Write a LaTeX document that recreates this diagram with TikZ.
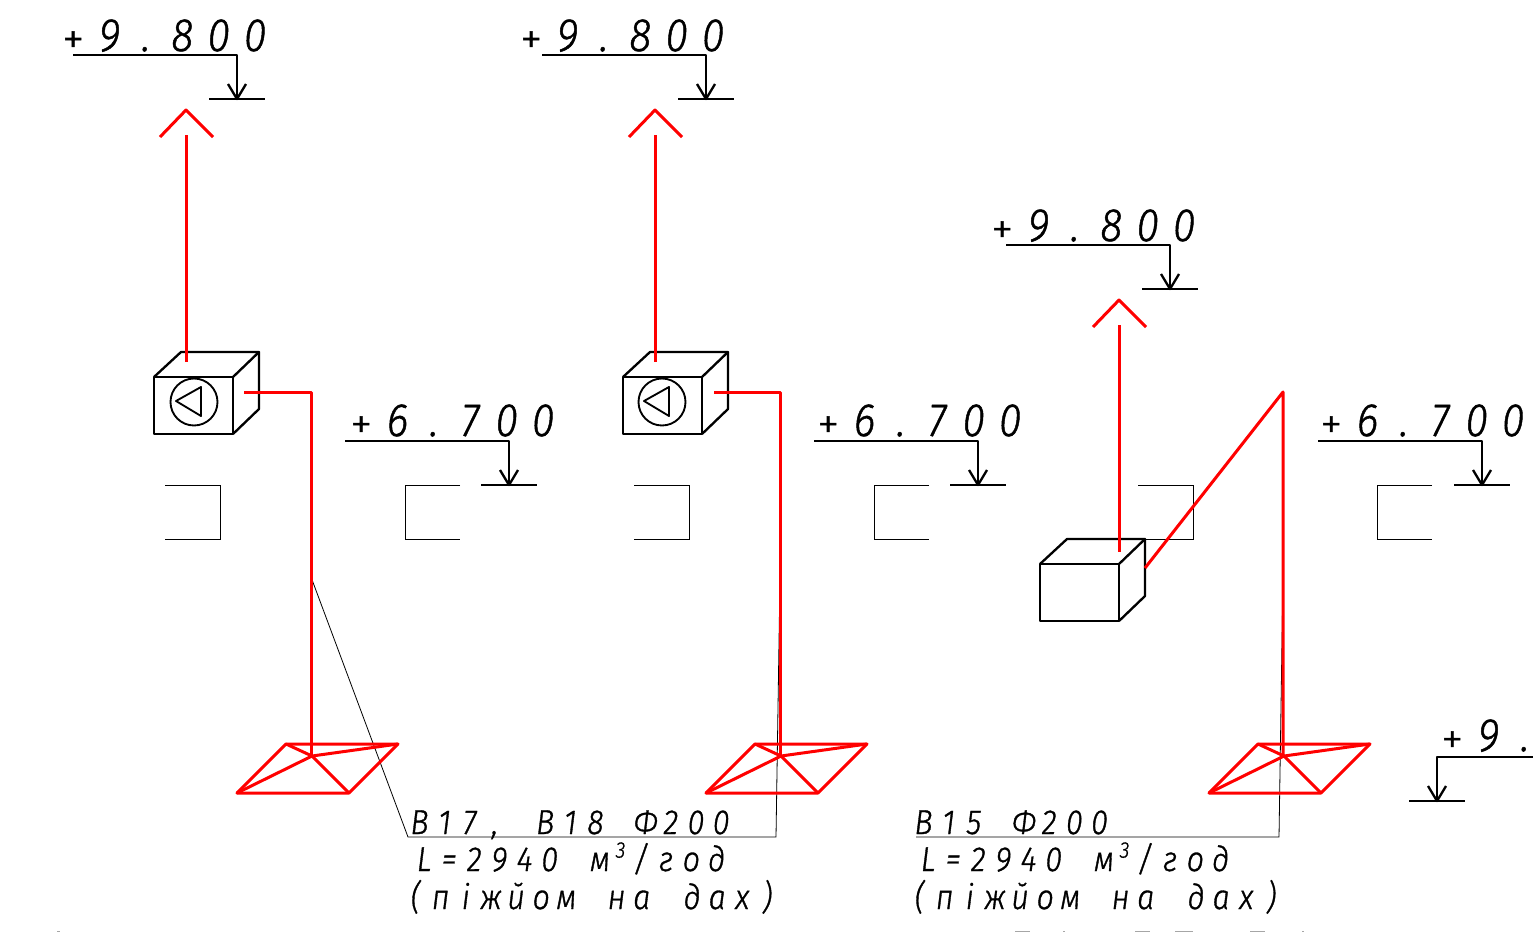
\documentclass[tikz,border=0pt]{standalone}
\usepackage{fontspec}
\newfontfamily\draftfont[FakeStretch=0.88,FakeBold=1]{Fira Sans Light Italic}
\newfontfamily\plusfont[FakeBold=1.2]{Fira Sans Light}
\newlength{\cellw}
\makeatletter
\newcommand{\celled}[1]{\@tfor\cc:=#1\do{\makebox[\cellw][c]{\cc}}}
\makeatother
\newcommand{\pluss}{\fontsize{33}{33}\plusfont\raisebox{-2pt}{+}}
\newcommand{\lvltxt}[1]{\setlength{\cellw}{27.3pt}\fontsize{35}{35}\draftfont\celled{#1}}
\newcommand{\notetxt}[1]{\setlength{\cellw}{18.85pt}\fontsize{26}{26}\draftfont\celled{#1}}
\newcommand{\cubesup}{\makebox[12pt][c]{\raisebox{10pt}{\fontsize{17}{17}\selectfont 3}}}
\tikzset{
  blk/.style={draw=black,line width=1.75pt,line join=round},
  redl/.style={draw=red,line width=2.25pt,line join=round},
  thin line/.style={draw=black,line width=0.6pt},
  frag/.style={draw=black!35,line width=0.9pt},
  lvl/.style={anchor=base west,inner sep=0pt,outer sep=0pt},
  note/.style={anchor=base west,inner sep=0pt,outer sep=0pt},
  levelmark/.pic={
    \draw[blk] (0,0) -- (164,0) -- (164,44);
    \draw[blk] (136,44) -- (192,44);
    \draw[blk] (155,29) -- (164,44) -- (173,29);
  },
  openleft/.pic={\draw[thin line] (0,0) -- (55,0) -- (55,54) -- (0,54);},
  openright/.pic={\draw[thin line] (55,0) -- (0,0) -- (0,54) -- (55,54);},
  boxbody/.pic={
    \draw[blk] (0,0) rectangle (79,57);
    \draw[blk] (0,0) -- (27,-25) -- (105,-25) -- (79,0);
    \draw[blk] (105,-25) -- (105,32) -- (79,57);
  },
  fanmark/.pic={
    \draw[blk,line width=1.4pt] (0,0) circle[radius=23.5];
    \draw[blk,line width=1.4pt] (-18,-1) -- (7,-15) -- (7,14) -- cycle;
  },
  ventup/.pic={
    \draw[redl] (-26,27) -- (0,0) -- (27,27);
  },
  diffuser/.pic={
    \draw[redl] (0,49) -- (112,49) -- (161,0) -- (49,0) -- cycle;
    \draw[redl] (0,49) -- (75,12) -- (161,0);
    \draw[redl] (49,0) -- (75,12) -- (112,49);
  },
}
\begin{document}
\begin{tikzpicture}[x=0.75pt,y=-0.75pt]
\useasboundingbox (0,0) rectangle (1533,932);

% level marks
\pic at (73,55) {levelmark};
\pic at (542,55) {levelmark};
\pic at (1006,245) {levelmark};
\pic at (345,441) {levelmark};
\pic at (814,441) {levelmark};
\pic at (1318,441) {levelmark};
\draw[blk] (1533,757) -- (1437,757) -- (1437,801);
\draw[blk] (1409,801) -- (1465,801);
\draw[blk] (1428,786) -- (1437,801) -- (1446,786);

\node[lvl] (t1) at (55,51) {\lvltxt{{\pluss}9.800}};
\node[lvl] (t2) at (513,51) {\lvltxt{{\pluss}9.800}};
\node[lvl] (t3) at (984,241) {\lvltxt{{\pluss}9.800}};
\node[lvl] (t4) at (343,436) {\lvltxt{{\pluss}6.700}};
\node[lvl] (t5) at (810,436) {\lvltxt{{\pluss}6.700}};
\node[lvl] (t6) at (1313,436) {\lvltxt{{\pluss}6.700}};
\node[lvl] (t7) at (1434,751) {\lvltxt{{\pluss}9.}};

% wall openings
\pic at (165,485) {openleft};
\pic at (405,485) {openright};
\pic at (634,485) {openleft};
\pic at (874,485) {openright};
\pic at (1138,485) {openleft};
\pic at (1377,485) {openright};

% boxes
\pic at (154,377) {boxbody};
\pic at (194,402) {fanmark};
\pic at (623,377) {boxbody};
\pic at (662,402) {fanmark};
\pic at (1040,564) {boxbody};

% leaders
\coordinate (a1) at (311,577);
\coordinate (a2) at (408,837);
\coordinate (a3) at (776,837);
\coordinate (a4) at (780,577);
\draw[thin line] (a1) -- (a2) -- (a3) -- (a4);
\coordinate (b1) at (916,837);
\coordinate (b2) at (1279,837);
\coordinate (b3) at (1283,575);
\draw[thin line] (b1) -- (b2) -- (b3);

% red ducts
\pic at (186,110) {ventup};
\draw[redl] (186,135) -- (186,362);
\draw[redl] (244,392) -- (311,392) -- (311,757);
\pic at (237,744) {diffuser};

\pic at (655,110) {ventup};
\draw[redl] (655,135) -- (655,362);
\draw[redl] (714,392) -- (780,392) -- (780,757);
\pic at (706,744) {diffuser};

\pic at (1119,300) {ventup};
\draw[redl] (1119,325) -- (1119,552);
\draw[redl] (1145,568) -- (1283,392) -- (1283,757);
\pic at (1209,744) {diffuser};

% notes
\node[note] (n1) at (407,834) {\notetxt{B17,~B18~Φ200}};
\node[note] (n2) at (411.5,871) {\notetxt{L=2940~м}\cubesup\notetxt{/год}};
\node[note] (n3) at (403,909) {\notetxt{(піжйом~на~дах)}};
\node[note] (n4) at (911,834) {\notetxt{B15~Φ200}};
\node[note] (n5) at (915.5,871) {\notetxt{L=2940~м}\cubesup\notetxt{/год}};
\node[note] (n6) at (907,909) {\notetxt{(піжйом~на~дах)}};

% clipped remains along the lower edge
\draw[frag] (57,931.5) -- (60,931.5);
\draw[frag] (1015,931.5) -- (1030,931.5);
\draw[frag] (1063,931.5) -- (1065,931.5);
\draw[frag] (1135,931.5) -- (1150,931.5);
\draw[frag] (1175,931.5) -- (1193,931.5);
\draw[frag] (1250,931.5) -- (1265,931.5);
\draw[frag] (1302,931.5) -- (1304,931.5);
\end{tikzpicture}
\end{document}
